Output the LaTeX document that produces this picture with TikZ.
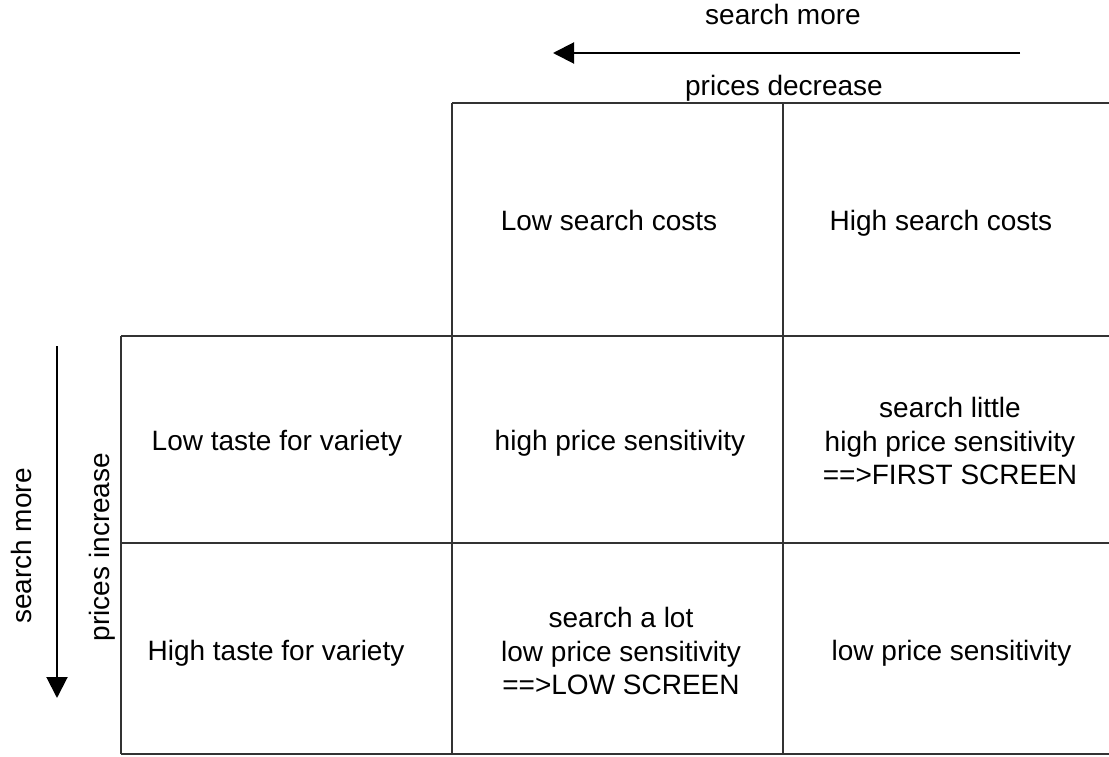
\documentclass[tikz,border=0pt]{standalone}
\usepackage{fontspec}
\setmainfont{Liberation Sans}
\usetikzlibrary{arrows.meta}
\newlength{\du}
\setlength{\du}{15\unitlength}
\tikzset{
  celltext/.style={align=center,inner sep=0pt,text height=23pt,text depth=4pt,
    font=\fontsize{28}{33.5}\selectfont},
  celllines/.style={align=center,inner sep=0pt,font=\fontsize{28}{33.5}\selectfont},
  axisarrow/.style={line width=2pt,-{Triangle[length=21pt,width=21pt]}}
}
\begin{document}
\begin{tikzpicture}
\pgftransformxscale{1.000000}
\pgftransformyscale{-1.000000}
\useasboundingbox (0\du,0\du) rectangle (73.933333\du,50.466667\du);
\definecolor{dialinecolor}{rgb}{0.200000, 0.200000, 0.200000}
\pgfsetstrokecolor{dialinecolor}
\pgfsetlinewidth{0.100000\du}
\pgfsetdash{}{0pt}
\pgfsetmiterjoin
% grid lines
\draw (30.133333\du,6.866667\du)--(73.933333\du,6.866667\du);
\draw (8.066667\du,22.400000\du)--(73.933333\du,22.400000\du);
\draw (8.066667\du,36.200000\du)--(73.933333\du,36.200000\du);
\draw (8.066667\du,50.266667\du)--(73.933333\du,50.266667\du);
\draw (8.066667\du,22.400000\du)--(8.066667\du,50.266667\du);
\draw (30.133333\du,6.866667\du)--(30.133333\du,50.266667\du);
\draw (52.200000\du,6.866667\du)--(52.200000\du,50.266667\du);
% column and row heads
\definecolor{dialinecolor}{rgb}{0.000000, 0.000000, 0.000000}
\pgfsetstrokecolor{dialinecolor}
\node[celltext] (lowCosts) at (40.600000\du,14.733333\du){Low search costs};
\node[celltext] (highCosts) at (62.733333\du,14.733333\du){High search costs};
\node[celltext] (lowTaste) at (18.466667\du,29.400000\du){Low taste for variety};
\node[celltext] (highTaste) at (18.400000\du,43.400000\du){High taste for variety};
% cells
\node[celltext] (lowLow) at (41.333333\du,29.400000\du){high price sensitivity};
\node[celllines] (lowHigh) at (63.333333\du,29.400000\du){search little\\high price sensitivity\\==>FIRST SCREEN};
\node[celllines] (highLow) at (41.400000\du,43.400000\du){search a lot\\low price sensitivity\\==>LOW SCREEN};
\node[celltext] (highHigh) at (63.433333\du,43.400000\du){low price sensitivity};
% top arrow
\coordinate (topTail) at (68.000000\du,3.533333\du);
\coordinate (topTip) at (36.866667\du,3.533333\du);
\draw[axisarrow] (topTail)--(topTip);
\node[celltext] (topSearch) at (52.200000\du,1.000000\du){search more};
\node[celltext] (topPrices) at (52.266667\du,5.733333\du){prices decrease};
% left arrow
\coordinate (leftTail) at (3.800000\du,23.066667\du);
\coordinate (leftTip) at (3.800000\du,46.533333\du);
\draw[axisarrow] (leftTail)--(leftTip);
\node[celltext,rotate=90] (leftSearch) at (1.466667\du,36.400000\du){search more};
\node[celltext,rotate=90] (leftPrices) at (6.666667\du,36.466667\du){prices increase};
\end{tikzpicture}
\end{document}
